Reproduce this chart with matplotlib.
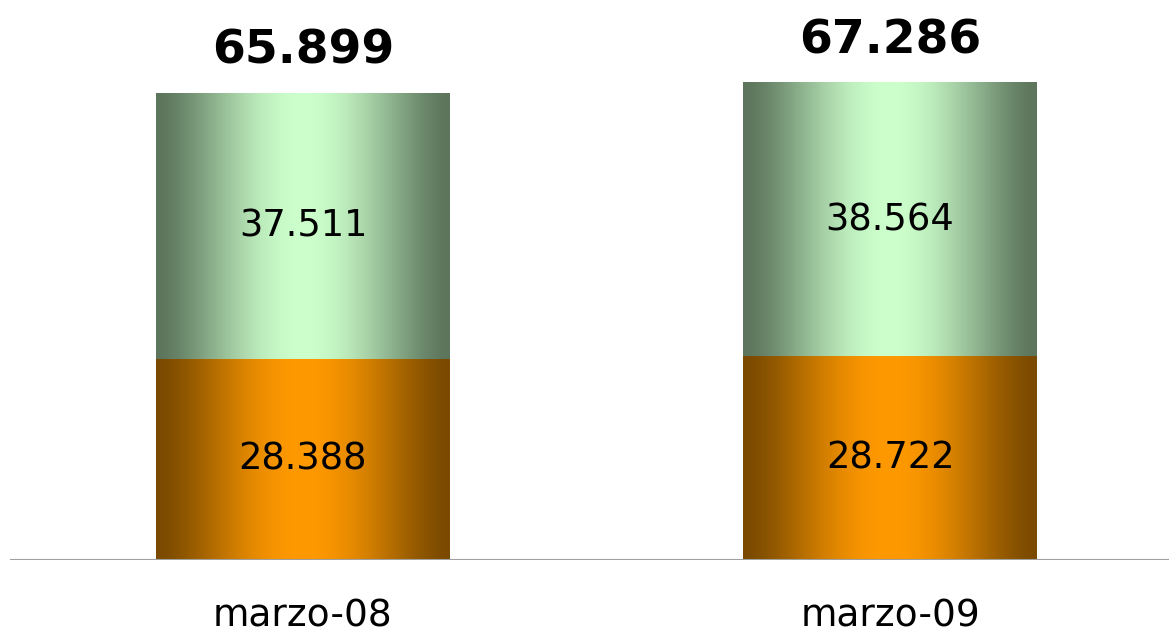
import numpy as np
import matplotlib.pyplot as plt
from matplotlib.colors import LinearSegmentedColormap, to_rgb

# data
categories = ["marzo-08", "marzo-09"]
bottom_vals = [28388, 28722]
top_vals = [37511, 38564]
totals = [65899, 67286]


def fmt(v):
    return "{:,}".format(v).replace(",", ".")


def cyl_cmap(name, edge, center):
    # dark edges, bright centre, like a cylinder shading
    e = np.array(to_rgb(edge))
    c = np.array(to_rgb(center))
    u = np.linspace(0, 1, 101)
    d = 1 - np.abs(2 * u - 1)
    f = np.sin(np.pi / 2 * d) ** 1.5
    cols = [tuple(e + (c - e) * k) for k in f]
    return LinearSegmentedColormap.from_list(name, list(zip(u, cols)))


orange_cm = cyl_cmap("orange", "#7a4a00", "#ff9900")
green_cm = cyl_cmap("green", "#5c755c", "#ccffcc")

fig = plt.figure(figsize=(11.69, 6.34), dpi=100)
ax = fig.add_axes([10 / 1169, 74 / 634, 1159 / 1169, 560 / 634])

x = np.arange(len(categories))
width = 0.5
grad = np.linspace(0, 1, 256).reshape(1, -1)

for i in range(len(categories)):
    b = bottom_vals[i]
    t = top_vals[i]
    left = x[i] - width / 2
    ax.imshow(grad, cmap=orange_cm, aspect="auto", interpolation="bicubic",
              extent=[left, left + width, 0, b], zorder=2)
    ax.imshow(grad, cmap=green_cm, aspect="auto", interpolation="bicubic",
              extent=[left, left + width, b, b + t], zorder=2)
    ax.text(x[i], b / 2, fmt(b), ha="center", va="center", fontsize=26.5, zorder=3)
    ax.text(x[i], b + t / 2, fmt(t), ha="center", va="center", fontsize=26.5, zorder=3)
    ax.annotate(fmt(totals[i]), (x[i], totals[i]), xytext=(0, 14), textcoords="offset points",
                ha="center", va="bottom", fontsize=34, fontweight="bold", zorder=3)

ax.set_xlim(-0.499, 1.475)
ax.set_ylim(0, 79020)
ax.axhline(0, color="#a0a0a0", lw=1.5, zorder=4)
for s in ax.spines.values():
    s.set_visible(False)
ax.set_yticks([])
ax.set_xticks(x)
ax.set_xticklabels(categories, fontsize=27)
ax.tick_params(axis="x", length=0, pad=28)

fig.savefig("out.png", dpi=100)
